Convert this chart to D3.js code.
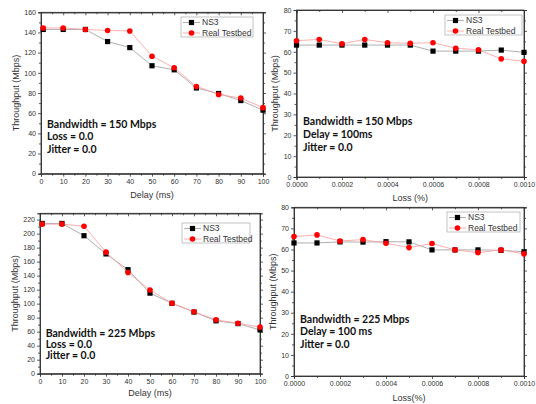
<!DOCTYPE html>
<html>
<head>
<meta charset="utf-8">
<script src="https://cdn.jsdelivr.net/npm/d3@7"></script>
<style>
body { margin: 0; background: #fff; }
svg { display: block; }
</style>
</head>
<body>
<svg id="chart" width="536" height="404"></svg>
<script>
// x values of the two sweeps
var delayX = [1, 10, 20, 30, 40, 50, 60, 70, 80, 90, 100];
var lossX = [0, 0.0001, 0.0002, 0.0003, 0.0004, 0.0005, 0.0006, 0.0007, 0.0008, 0.0009, 0.001];

// throughput (Mbps)
var ns3Delay150 = [143, 143, 143, 131, 125, 107, 103, 85, 79.5, 72.5, 63];
var realDelay150 = [144.5, 144.5, 143, 142, 141.5, 116.5, 105, 86.5, 78.5, 75, 65.5];
var ns3Loss150 = [63.2, 63.2, 63.2, 63.2, 63.2, 63.2, 60.3, 60.3, 60.3, 60.8, 59.7];
var realLoss150 = [65.3, 65.9, 63.8, 65.9, 64.3, 64.1, 64.3, 61.7, 60.9, 56.6, 55.4];
var ns3Delay225 = [214.5, 214.5, 197, 171, 148.5, 115, 100.5, 88, 75.5, 71.5, 62.5];
var realDelay225 = [213.5, 213.5, 210.5, 173.5, 144.5, 119.5, 100.5, 88.5, 77, 72, 66.5];
var ns3Loss225 = [63.1, 63.1, 63.6, 63.5, 63.7, 63.6, 59.8, 59.8, 59.8, 59.6, 58.9];
var realLoss225 = [66.1, 66.9, 64, 64.7, 62.9, 60.9, 62.8, 59.8, 58.5, 59.8, 57.9];

// tick labels
var delayTicks = [0, 10, 20, 30, 40, 50, 60, 70, 80, 90, 100];
var delayMinor = [5, 15, 25, 35, 45, 55, 65, 75, 85, 95];
var lossTicks = [0, 0.0002, 0.0004, 0.0006, 0.0008, 0.001];
var lossMinor = [0.0001, 0.0003, 0.0005, 0.0007, 0.0009];
var yTicks160 = [0, 20, 40, 60, 80, 100, 120, 140, 160];
var yMinor160 = [10, 30, 50, 70, 90, 110, 130, 150];
var yTicks220 = [0, 20, 40, 60, 80, 100, 120, 140, 160, 180, 200, 220];
var yMinor220 = [10, 30, 50, 70, 90, 110, 130, 150, 170, 190, 210];
var yTicks80 = [0, 10, 20, 30, 40, 50, 60, 70, 80];
var yMinor80 = [5, 15, 25, 35, 45, 55, 65, 75];

var seriesNames = ["NS3", "Real Testbed"];

var svg = d3.select("#chart");
var tickFont = "Liberation Sans, Arial, sans-serif";

function drawPanel(p) {
    var g = svg.append("g");
    var x = d3.scaleLinear().domain(p.xDomain).range([p.left, p.right]);
    var y = d3.scaleLinear().domain(p.yDomain).range([p.bottom, p.top]);

    // frame
    g.append("rect")
        .attr("x", p.left).attr("y", p.top)
        .attr("width", p.right - p.left).attr("height", p.bottom - p.top)
        .attr("fill", "none").attr("stroke", "#333").attr("stroke-width", 0.8);

    // bottom axis, major + minor
    var bx = g.append("g").attr("transform", "translate(0," + p.bottom + ")")
        .call(d3.axisBottom(x).tickValues(p.xTicks).tickFormat(p.xFmt).tickSize(3).tickPadding(2));
    g.append("g").attr("transform", "translate(0," + p.bottom + ")")
        .call(d3.axisBottom(x).tickValues(p.xMinor).tickFormat("").tickSize(2));
    // top mirror ticks
    g.append("g").attr("transform", "translate(0," + p.top + ")")
        .call(d3.axisBottom(x).tickValues(p.xTicks).tickFormat("").tickSize(3));
    g.append("g").attr("transform", "translate(0," + p.top + ")")
        .call(d3.axisBottom(x).tickValues(p.xMinor).tickFormat("").tickSize(2));

    // left axis
    g.append("g").attr("transform", "translate(" + p.left + ",0)")
        .call(d3.axisLeft(y).tickValues(p.yTicks).tickFormat(d3.format("d")).tickSize(3).tickPadding(2));
    g.append("g").attr("transform", "translate(" + p.left + ",0)")
        .call(d3.axisLeft(y).tickValues(p.yMinor).tickFormat("").tickSize(2));
    // right mirror ticks
    g.append("g").attr("transform", "translate(" + p.right + ",0)")
        .call(d3.axisRight(y).tickValues(p.yTicks).tickFormat("").tickSize(3));
    g.append("g").attr("transform", "translate(" + p.right + ",0)")
        .call(d3.axisRight(y).tickValues(p.yMinor).tickFormat("").tickSize(2));

    g.selectAll(".domain").attr("stroke", "#333").attr("stroke-width", 0.8);
    g.selectAll(".tick line").attr("stroke", "#333").attr("stroke-width", 0.8);
    g.selectAll(".tick text").attr("font-family", tickFont).attr("font-size", "7px").attr("fill", "#333");

    // axis titles
    g.append("text")
        .attr("x", (p.left + p.right) / 2).attr("y", p.xTitleY)
        .attr("text-anchor", "middle").attr("dy", "0.35em")
        .attr("font-family", tickFont).attr("font-size", "9px").attr("fill", "#333")
        .text(p.xTitle);
    g.append("text")
        .attr("transform", "translate(" + p.yTitleX + "," + (p.top + p.bottom) / 2 + ") rotate(-90)")
        .attr("text-anchor", "middle").attr("dy", "0.35em")
        .attr("font-family", tickFont).attr("font-size", "9px").attr("fill", "#333")
        .text("Throughput (Mbps)");

    // lines
    var line = d3.line().x(function (d) { return x(d[0]); }).y(function (d) { return y(d[1]); });
    var ns3 = d3.zip(p.xs, p.ns3);
    var real = d3.zip(p.xs, p.real);

    g.append("path").datum(ns3).attr("d", line)
        .attr("fill", "none").attr("stroke", "#9a9a9a").attr("stroke-width", 0.8);
    g.selectAll(".sq").data(ns3).enter().append("rect")
        .attr("x", function (d) { return x(d[0]) - 2.6; })
        .attr("y", function (d) { return y(d[1]) - 2.6; })
        .attr("width", 5.2).attr("height", 5.2).attr("fill", "#000");

    g.append("path").datum(real).attr("d", line)
        .attr("fill", "none").attr("stroke", "#ff9a9a").attr("stroke-width", 0.8);
    g.selectAll(".ci").data(real).enter().append("circle")
        .attr("cx", function (d) { return x(d[0]); })
        .attr("cy", function (d) { return y(d[1]); })
        .attr("r", 2.8).attr("fill", "#ff0000");

    // legend
    var lg = g.append("g").attr("transform", "translate(" + p.legX + "," + p.legY + ")");
    lg.append("rect").attr("x", 0).attr("y", 0).attr("width", p.legW).attr("height", 20)
        .attr("fill", "#fff").attr("stroke", "#aaa").attr("stroke-width", 0.7);
    seriesNames.forEach(function (name, i) {
        var cy = 5.5 + i * 10.5;
        lg.append("line").attr("x1", 2).attr("x2", 19).attr("y1", cy).attr("y2", cy)
            .attr("stroke", i === 0 ? "#9a9a9a" : "#ff9a9a").attr("stroke-width", 0.8);
        if (i === 0) {
            lg.append("rect").attr("x", 10.5 - 2.6).attr("y", cy - 2.6).attr("width", 5.2).attr("height", 5.2).attr("fill", "#000");
        } else {
            lg.append("circle").attr("cx", 10.5).attr("cy", cy).attr("r", 2.8).attr("fill", "#ff0000");
        }
        lg.append("text").attr("x", 21).attr("y", cy).attr("dy", "0.35em")
            .attr("font-family", tickFont).attr("font-size", "8.5px").attr("fill", "#333")
            .text(name);
    });

    // condition notes
    p.notes.forEach(function (t, i) {
        g.append("text")
            .attr("x", p.noteX).attr("y", p.noteY + i * p.noteStep).attr("dy", "0.35em")
            .attr("font-family", "Lato, 'Open Sans', sans-serif").attr("font-weight", "bold")
            .attr("font-size", "10.5px").attr("fill", "#111")
            .text(t);
    });
}

var lossFmt = d3.format(".4f");

drawPanel({
    left: 41, right: 263, top: 12.3, bottom: 173.7,
    xDomain: [0, 100], yDomain: [0, 160],
    xTicks: delayTicks, xMinor: delayMinor, xFmt: d3.format("d"),
    yTicks: yTicks160, yMinor: yMinor160,
    xs: delayX, ns3: ns3Delay150, real: realDelay150,
    xTitle: "Delay (ms)", xTitleY: 195, yTitleX: 16,
    legX: 181, legY: 17, legW: 72,
    notes: ["Bandwidth = 150 Mbps", "Loss = 0.0", "Jitter = 0.0"],
    noteX: 47, noteY: 124.3, noteStep: 12.5
});

drawPanel({
    left: 296.5, right: 524, top: 10, bottom: 177,
    xDomain: [0, 0.001], yDomain: [0, 80],
    xTicks: lossTicks, xMinor: lossMinor, xFmt: lossFmt,
    yTicks: yTicks80, yMinor: yMinor80,
    xs: lossX, ns3: ns3Loss150, real: realLoss150,
    xTitle: "Loss (%)", xTitleY: 198, yTitleX: 275,
    legX: 445, legY: 15, legW: 77,
    notes: ["Bandwidth = 150 Mbps", "Delay = 100ms", "Jitter = 0.0"],
    noteX: 303, noteY: 121.7, noteStep: 12.8
});

drawPanel({
    left: 40, right: 260, top: 213.3, bottom: 373.7,
    xDomain: [0, 100], yDomain: [0, 229],
    xTicks: delayTicks, xMinor: delayMinor, xFmt: d3.format("d"),
    yTicks: yTicks220, yMinor: yMinor220,
    xs: delayX, ns3: ns3Delay225, real: realDelay225,
    xTitle: "Delay (ms)", xTitleY: 393, yTitleX: 15,
    legX: 182, legY: 223, legW: 68,
    notes: ["Bandwidth = 225 Mbps", "Loss = 0.0", "Jitter = 0.0"],
    noteX: 45.7, noteY: 333.3, noteStep: 11
});

drawPanel({
    left: 294, right: 524, top: 207.3, bottom: 376,
    xDomain: [0, 0.001], yDomain: [0, 80],
    xTicks: lossTicks, xMinor: lossMinor, xFmt: lossFmt,
    yTicks: yTicks80, yMinor: yMinor80,
    xs: lossX, ns3: ns3Loss225, real: realLoss225,
    xTitle: "Loss(%)", xTitleY: 398, yTitleX: 273,
    legX: 447, legY: 212, legW: 73,
    notes: ["Bandwidth = 225 Mbps", "Delay = 100 ms", "Jitter = 0.0"],
    noteX: 300, noteY: 319, noteStep: 12.8
});
</script>
</body>
</html>
